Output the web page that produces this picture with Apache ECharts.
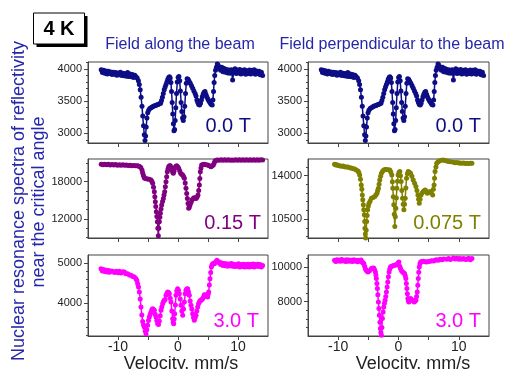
<!DOCTYPE html>
<html>
<head>
<meta charset="utf-8">
<script src="https://cdn.jsdelivr.net/npm/echarts@6/dist/echarts.min.js"></script>
<style>
  html, body { margin: 0; padding: 0; background: #fff; }
  #chart { width: 505px; height: 369px; }
</style>
</head>
<body>
<div id="chart"></div>
<script>
// velocity axis (mm/s)
const velTicks = [-10, -5, 0, 5, 10];
const velLabels = [-10, 0, 10];

// y tick values per panel
const ticksZeroMajor = [3000, 3500, 4000];
const ticksZeroMinor = [2900, 3100, 3200, 3300, 3400, 3600, 3700, 3800, 3900, 4100];
const ticksParMidMajor = [12000, 18000];
const ticksParMidMinor = [9000, 10500, 13500, 15000, 16500, 19500, 21000];
const ticksPerpMidMajor = [10500, 14000];
const ticksPerpMidMinor = [9100, 9800, 11200, 11900, 12600, 13300, 14700];
const ticksParHighMajor = [4000, 5000];
const ticksParHighMinor = [3200, 3400, 3600, 3800, 4200, 4400, 4600, 4800];
const ticksPerpHighMajor = [8000, 10000];
const ticksPerpHighMinor = [6500, 7000, 7500, 8500, 9000, 9500, 10500];

// 0.0 T spectrum (same in both geometries)
const specZero = [
  [-12.8,3990],[-12.6,3945],[-12.4,3980],[-12.2,3935],[-12.0,3970],[-11.8,3925],[-11.6,3965],[-11.4,3930],
  [-11.2,3955],[-11.0,3915],[-10.8,3950],[-10.6,3920],[-10.4,3945],[-10.2,3905],[-10.0,3940],[-9.8,3910],
  [-9.6,3950],[-9.4,3900],[-9.2,3935],[-9.0,3895],[-8.8,3930],[-8.6,3890],[-8.4,3945],[-8.2,3885],
  [-8.0,3925],[-7.8,3880],[-7.6,3915],[-7.4,3870],[-7.2,3905],[-7.0,3880],[-6.8,3860],
  [-6.6,3820],[-6.45,3760],[-6.3,3680],[-6.15,3560],[-6.0,3420],[-5.88,3270],[-5.75,3120],[-5.62,2980],
  [-5.5,2890],[-5.4,2960],[-5.3,3100],[-5.18,3240],[-5.05,3320],[-4.9,3360],[-4.7,3385],[-4.5,3400],
  [-4.3,3410],[-4.1,3420],[-3.9,3430],[-3.7,3435],[-3.5,3445],[-3.3,3450],[-3.1,3460],[-2.9,3470],
  [-2.75,3510],[-2.6,3560],[-2.45,3620],[-2.3,3680],[-2.15,3720],[-2.0,3760],[-1.85,3800],[-1.7,3840],
  [-1.55,3870],[-1.42,3880],[-1.3,3860],[-1.18,3790],[-1.08,3650],[-0.97,3480],[-0.87,3300],[-0.77,3150],
  [-0.67,3040],[-0.57,3060],[-0.47,3200],[-0.37,3400],[-0.25,3620],[-0.12,3800],[0.02,3870],[0.15,3885],
  [0.28,3820],[0.4,3660],[0.52,3480],[0.64,3340],[0.76,3240],[0.88,3200],[1.0,3260],[1.12,3420],
  [1.25,3620],[1.38,3780],[1.52,3850],[1.68,3840],[1.85,3810],[2.05,3780],[2.25,3740],[2.45,3700],
  [2.65,3660],[2.85,3620],[3.0,3580],[3.15,3520],[3.3,3480],[3.45,3450],[3.6,3440],[3.75,3470],
  [3.9,3520],[4.05,3570],[4.2,3610],[4.35,3640],[4.5,3650],[4.65,3610],[4.8,3570],[4.95,3540],
  [5.1,3510],[5.25,3490],[5.4,3470],[5.55,3450],[5.7,3440],[5.82,3520],[5.92,3650],[6.02,3790],
  [6.12,3900],[6.25,3980],[6.4,4030],[6.55,4080],[6.7,4060],[6.9,4010],[7.1,3980],[7.3,4030],
  [7.5,3960],[7.7,4010],[7.9,3950],[8.1,3995],[8.3,3940],[8.5,3985],[8.7,3935],[8.9,3990],
  [9.1,3830],[9.3,3960],[9.5,4005],[9.7,3930],[9.9,3985],[10.1,3940],[10.3,3995],[10.5,3925],
  [10.7,3980],[10.9,3935],[11.1,3990],[11.3,3920],[11.5,3975],[11.7,3930],[11.9,3985],[12.1,3925],
  [12.3,3980],[12.5,3935],[12.7,3990],[12.9,3920],[13.1,3970],[13.3,3930],[13.5,3965],[13.7,3910],
  [13.9,3950],[14.1,3900]
];

// 0.15 T, field along the beam
const specPar015 = [
  [-12.8,20800],[-12.5,20720],[-12.2,20810],[-11.9,20730],[-11.6,20790],[-11.3,20700],[-11.0,20770],[-10.7,20690],
  [-10.4,20750],[-10.1,20660],[-9.8,20730],[-9.5,20650],[-9.2,20710],[-8.9,20630],[-8.6,20690],[-8.3,20600],
  [-8.0,20660],[-7.7,20580],[-7.4,20620],[-7.1,20560],[-6.8,20580],[-6.6,20520],[-6.4,20450],[-6.2,20300],
  [-6.0,19880],[-5.9,19450],[-5.78,19080],[-5.67,18750],[-5.56,18540],[-5.3,18460],[-5.06,18430],[-4.8,18380],
  [-4.5,18270],[-4.35,18050],[-4.22,17740],[-4.08,17100],[-3.94,16400],[-3.86,15600],[-3.78,14790],[-3.7,14000],
  [-3.61,13180],[-3.52,12400],[-3.44,11570],[-3.36,10500],[-3.28,9300],[-3.2,10500],[-3.11,11570],[-3.02,12300],
  [-2.94,12910],[-2.83,13600],[-2.72,14250],[-2.58,14800],[-2.44,15320],[-2.33,15850],[-2.22,16400],[-2.11,17200],
  [-2.0,18000],[-1.89,18800],[-1.78,19610],[-1.67,20050],[-1.56,20420],[-1.42,20550],[-1.28,20580],[-1.14,20300],
  [-1.0,19880],[-0.89,19550],[-0.78,19350],[-0.67,19700],[-0.56,20150],[-0.39,20450],[-0.22,20580],[-0.05,20400],
  [0.11,20150],[0.28,19750],[0.44,19350],[0.61,19200],[0.78,19080],[0.92,18850],[1.06,18540],[1.2,17800],
  [1.33,16930],[1.45,16100],[1.56,15320],[1.67,14500],[1.78,13715],[1.89,13950],[2.0,14250],[2.17,14650],
  [2.33,15055],[2.5,15250],[2.67,15430],[2.83,15380],[3.0,15320],[3.17,15500],[3.33,15860],[3.45,16600],
  [3.56,17470],[3.64,18500],[3.72,19610],[3.83,20200],[3.94,20690],[4.15,20760],[4.39,20800],[4.65,20740],
  [4.94,20690],[5.2,20550],[5.5,20420],[5.7,20550],[5.89,20690],[6.03,21000],[6.17,21330],[6.4,21450],
  [6.61,21490],[6.9,21430],[7.2,21510],[7.5,21440],[7.8,21520],[8.1,21450],[8.4,21510],[8.7,21430],
  [9.0,21500],[9.3,21440],[9.6,21510],[9.9,21450],[10.2,21520],[10.5,21440],[10.8,21510],[11.1,21450],
  [11.4,21520],[11.7,21440],[12.0,21510],[12.3,21460],[12.6,21520],[12.9,21450],[13.2,21510],[13.5,21460],
  [13.8,21510],[14.1,21470]
];

// 0.075 T, field perpendicular to the beam
const specPerp0075 = [
  [-10.6,14913],[-10.4,14850],[-10.2,14880],[-10.0,14820],[-9.78,14805],[-9.5,14760],[-9.2,14780],[-8.94,14725],
  [-8.7,14700],[-8.4,14690],[-8.11,14645],[-7.85,14620],[-7.6,14580],[-7.28,14538],[-7.0,14460],[-6.72,14377],
  [-6.58,14250],[-6.44,14056],[-6.3,13700],[-6.17,13253],[-6.08,12900],[-6.0,12451],[-5.92,12050],[-5.83,11648],
  [-5.75,11250],[-5.67,10845],[-5.6,10300],[-5.56,9775],[-5.5,9300],[-5.44,8990],[-5.36,9600],[-5.28,10310],
  [-5.2,10800],[-5.11,11246],[-5.0,11550],[-4.89,11780],[-4.7,11950],[-4.5,12183],[-4.2,12250],[-3.94,12317],
  [-3.75,12450],[-3.56,12585],[-3.45,12800],[-3.33,12986],[-3.22,13300],[-3.11,13655],[-2.97,13950],[-2.83,14190],
  [-2.64,14350],[-2.44,14458],[-2.2,14490],[-2.0,14498],[-1.72,14470],[-1.44,14458],[-1.28,14300],[-1.11,14056],
  [-1.02,13500],[-0.94,12986],[-0.86,12300],[-0.78,11648],[-0.7,10900],[-0.61,9908],[-0.53,10700],[-0.44,11380],
  [-0.36,12200],[-0.28,12986],[-0.17,13550],[-0.06,14056],[0.08,14250],[0.22,14324],[0.33,14000],[0.44,13521],
  [0.55,12800],[0.67,12183],[0.78,11700],[0.89,11246],[1.0,11700],[1.11,12183],[1.22,13000],[1.33,13789],
  [1.47,14150],[1.61,14324],[1.8,14280],[2.0,14190],[2.22,13950],[2.44,13655],[2.67,13380],[2.89,13119],
  [3.05,12800],[3.22,12451],[3.33,12100],[3.44,11782],[3.58,12100],[3.72,12451],[3.9,12600],[4.11,12718],
  [4.28,12800],[4.44,12852],[4.6,12720],[4.78,12585],[5.0,12650],[5.22,12718],[5.45,12600],[5.67,12451],
  [5.78,12900],[5.89,13253],[5.97,13800],[6.06,14324],[6.2,14700],[6.33,14993],[6.55,15120],[6.78,15180],
  [7.1,15230],[7.44,15260],[7.7,15210],[8.0,15180],[8.3,15130],[8.6,15110],[9.11,15073],[9.4,15040],
  [9.7,15060],[10.0,15020],[10.22,15020],[10.5,14990],[10.8,15010],[11.1,14980],[11.33,14993],[11.6,14970],
  [11.9,15000],[12.17,14990]
];

// 3.0 T, field along the beam
const specPar30 = [
  [-12.83,4858],[-12.6,4800],[-12.4,4840],[-12.2,4790],[-12.0,4817],[-11.8,4775],[-11.6,4810],[-11.4,4770],
  [-11.2,4800],[-10.89,4792],[-10.6,4760],[-10.3,4795],[-10.0,4755],[-9.78,4792],[-9.5,4750],[-9.2,4780],
  [-8.94,4775],[-8.7,4730],[-8.39,4733],[-8.1,4700],[-7.83,4692],[-7.55,4660],[-7.28,4650],[-7.0,4608],
  [-6.86,4560],[-6.72,4483],[-6.58,4400],[-6.44,4275],[-6.3,4100],[-6.17,3900],[-6.03,3700],[-5.89,3540],
  [-5.75,3450],[-5.61,3400],[-5.47,3300],[-5.33,3233],[-5.2,3330],[-5.06,3442],[-4.92,3560],[-4.78,3650],
  [-4.64,3720],[-4.5,3775],[-4.36,3830],[-4.22,3858],[-4.08,3840],[-3.94,3817],[-3.8,3720],[-3.67,3650],
  [-3.53,3560],[-3.39,3483],[-3.25,3460],[-3.11,3550],[-2.97,3680],[-2.83,3817],[-2.7,3900],[-2.56,3983],
  [-2.42,4040],[-2.28,4067],[-2.14,4090],[-2.0,4192],[-1.86,4230],[-1.72,4275],[-1.58,4260],[-1.44,4233],
  [-1.3,4120],[-1.17,4025],[-1.03,3800],[-0.89,3608],[-0.8,3520],[-0.72,3483],[-0.64,3600],[-0.56,3733],
  [-0.44,3950],[-0.33,4192],[-0.2,4300],[-0.06,4358],[0.08,4320],[0.22,4233],[0.36,4100],[0.5,3942],
  [0.64,3800],[0.78,3692],[0.92,3850],[1.06,4025],[1.2,4230],[1.33,4317],[1.47,4350],[1.61,4358],
  [1.75,4280],[1.89,4192],[2.03,4050],[2.17,3942],[2.3,3850],[2.44,3733],[2.58,3640],[2.72,3567],
  [2.86,3640],[3.0,3692],[3.14,3800],[3.28,3900],[3.42,3980],[3.56,4025],[3.7,4060],[3.83,4067],
  [3.97,4090],[4.11,4108],[4.25,4150],[4.39,4208],[4.53,4200],[4.67,4192],[4.8,4170],[4.94,4150],
  [5.02,4220],[5.11,4275],[5.22,4450],[5.33,4608],[5.45,4760],[5.56,4900],[5.67,4950],[5.78,4983],
  [5.92,4990],[6.06,4983],[6.28,5030],[6.5,5067],[6.7,5010],[6.89,5025],[7.1,4960],[7.3,5000],
  [7.5,4940],[7.7,4990],[7.9,4930],[8.1,4980],[8.3,4920],[8.5,4975],[8.7,4930],[8.9,4990],
  [9.1,4920],[9.3,4970],[9.5,4910],[9.7,4960],[9.9,4920],[10.1,4980],[10.3,4900],[10.5,4960],
  [10.7,4910],[10.9,4970],[11.1,4900],[11.3,4960],[11.5,4905],[11.7,4970],[11.9,4900],[12.1,4960],
  [12.3,4910],[12.5,4975],[12.7,4900],[12.9,4960],[13.1,4920],[13.3,4970],[13.5,4910],[13.7,4960],
  [13.9,4900],[14.1,4940]
];

// 3.0 T, field perpendicular to the beam
const specPerp30 = [
  [-10.6,10405],[-10.4,10330],[-10.2,10440],[-10.0,10360],[-9.8,10420],[-9.6,10340],[-9.4,10450],[-9.2,10370],
  [-9.0,10410],[-8.8,10330],[-8.6,10430],[-8.4,10350],[-8.2,10420],[-8.0,10340],[-7.8,10400],[-7.6,10330],
  [-7.4,10440],[-7.2,10360],[-7.0,10410],[-6.8,10320],[-6.6,10400],[-6.4,10340],[-6.2,10420],[-6.0,10300],
  [-5.89,10250],[-5.75,10211],[-5.61,10050],[-5.47,9900],[-5.33,9824],[-5.2,9760],[-5.06,9727],[-4.8,9800],
  [-4.5,9920],[-4.3,9940],[-4.11,9959],[-3.97,9850],[-3.83,9727],[-3.75,9550],[-3.67,9339],[-3.58,9050],
  [-3.5,8758],[-3.42,8400],[-3.33,7983],[-3.25,7600],[-3.17,7208],[-3.08,6800],[-3.0,6432],[-2.92,6200],
  [-2.83,6045],[-2.75,6500],[-2.67,7013],[-2.55,7400],[-2.44,7692],[-2.33,7900],[-2.22,8080],[-2.11,8300],
  [-2.0,8564],[-1.89,8850],[-1.78,9145],[-1.67,9450],[-1.56,9727],[-1.45,9900],[-1.33,10017],[-1.17,10050],
  [-1.0,10076],[-0.8,10100],[-0.61,10115],[-0.4,10140],[-0.22,10153],[-0.08,10250],[0.06,10308],[0.2,10050],
  [0.33,9920],[0.5,9800],[0.67,9727],[0.83,9680],[1.0,9630],[1.12,9500],[1.22,9339],[1.3,9050],
  [1.39,8758],[1.47,8450],[1.56,8176],[1.64,8050],[1.72,7983],[1.86,8080],[2.0,8176],[2.17,8120],
  [2.33,8080],[2.47,8030],[2.61,7983],[2.75,8030],[2.89,8080],[3.0,8300],[3.11,8564],[3.2,8950],
  [3.28,9339],[3.36,9700],[3.44,10017],[3.55,10200],[3.67,10308],[3.9,10330],[4.11,10347],[4.4,10320],
  [4.67,10308],[4.95,10330],[5.22,10347],[5.5,10380],[5.8,10360],[6.06,10405],[6.3,10440],[6.6,10410],
  [6.89,10463],[7.2,10430],[7.5,10480],[8.0,10463],[8.3,10500],[8.6,10450],[9.11,10541],[9.4,10480],
  [9.7,10520],[10.0,10470],[10.22,10502],[10.5,10460],[10.8,10510],[11.1,10450],[11.33,10463],[11.6,10520],
  [11.9,10440],[12.17,10502]
];

const FONT = '"Liberation Sans", Arial, sans-serif';
const NAVY = '#0d0d85';
const TITLE_BLUE = '#2626aa';
const AXIS = '#444';

const panels = [
  { data: specZero, color: NAVY, min: 2850, max: 4110, major: ticksZeroMajor, minor: ticksZeroMinor,
    left: 88, top: 62, width: 180, height: 81, label: '0.0 T', labelX: 251, labelY: 126 },
  { data: specZero, color: NAVY, min: 2850, max: 4110, major: ticksZeroMajor, minor: ticksZeroMinor,
    left: 308, top: 62, width: 181, height: 81, label: '0.0 T', labelX: 481, labelY: 126 },
  { data: specPar015, color: '#800080', min: 8950, max: 21650, major: ticksParMidMajor, minor: ticksParMidMinor,
    left: 88, top: 159, width: 180, height: 79, label: '0.15 T', labelX: 261, labelY: 223 },
  { data: specPerp0075, color: '#808000', min: 8980, max: 15340, major: ticksPerpMidMajor, minor: ticksPerpMidMinor,
    left: 308, top: 159, width: 181, height: 79, label: '0.075 T', labelX: 481, labelY: 223 },
  { data: specPar30, color: '#ff00ff', min: 3175, max: 5200, major: ticksParHighMajor, minor: ticksParHighMinor,
    left: 88, top: 255, width: 180, height: 81, label: '3.0 T', labelX: 259, labelY: 321 },
  { data: specPerp30, color: '#ff00ff', min: 6000, max: 10710, major: ticksPerpHighMajor, minor: ticksPerpHighMinor,
    left: 308, top: 255, width: 181, height: 81, label: '3.0 T', labelX: 481, labelY: 321 }
];

const grid = [], xAxis = [], yAxis = [], series = [];
const graphic = [];

panels.forEach((p, i) => {
  const isBottom = i >= 4;
  grid.push({
    left: p.left, top: p.top, width: p.width, height: p.height,
    show: true, borderColor: AXIS, borderWidth: 1, backgroundColor: 'transparent'
  });
  xAxis.push({
    type: 'value', gridIndex: i, min: -15, max: 15,
    axisLine: { show: true, onZero: false, lineStyle: { color: AXIS, width: 1 } },
    axisTick: { show: true, length: 4, customValues: velTicks, lineStyle: { color: AXIS } },
    axisLabel: { show: isBottom, customValues: velLabels, fontSize: 14, color: '#222', margin: 4,
      fontFamily: FONT, formatter: v => String(v) },
    splitLine: { show: false }
  });
  // main ticks + labels
  yAxis.push({
    type: 'value', gridIndex: i, min: p.min, max: p.max, position: 'left',
    axisLine: { show: true, onZero: false, lineStyle: { color: AXIS, width: 1 } },
    axisTick: { show: true, length: 4, customValues: p.major, lineStyle: { color: AXIS } },
    axisLabel: { customValues: p.major, fontSize: 11, color: '#222', margin: 6, fontFamily: FONT,
      formatter: v => String(v) },
    splitLine: { show: false }
  });
  // minor ticks
  yAxis.push({
    type: 'value', gridIndex: i, min: p.min, max: p.max, position: 'left', offset: 0,
    axisLine: { show: false, onZero: false },
    axisTick: { show: true, length: 2, customValues: p.minor, lineStyle: { color: AXIS } },
    axisLabel: { show: false },
    splitLine: { show: false }
  });
  series.push({
    type: 'line', xAxisIndex: i, yAxisIndex: i * 2, data: p.data,
    symbol: 'circle', symbolSize: 5, showAllSymbol: true,
    lineStyle: { color: p.color, width: 1.5 },
    itemStyle: { color: p.color },
    clip: true, silent: true
  });
  graphic.push({
    type: 'text', x: p.labelX, y: p.labelY,
    style: { text: p.label, fill: p.color, font: '20px ' + FONT, align: 'right', verticalAlign: 'middle' }
  });
});

graphic.push(
  { type: 'rect', shape: { x: 36.5, y: 16, width: 51, height: 31 }, style: { fill: '#000' } },
  { type: 'rect', shape: { x: 33.5, y: 13, width: 51, height: 31 }, style: { fill: '#fff', stroke: '#000', lineWidth: 1 } },
  { type: 'text', x: 59, y: 29, style: { text: '4 K', fill: '#000', font: 'bold 20px ' + FONT, align: 'center', verticalAlign: 'middle' } },
  { type: 'text', x: 180, y: 45, style: { text: 'Field along the beam', fill: TITLE_BLUE, font: '16px ' + FONT, align: 'center', verticalAlign: 'middle' } },
  { type: 'text', x: 392, y: 45, style: { text: 'Field perpendicular to the beam', fill: TITLE_BLUE, font: '16px ' + FONT, align: 'center', verticalAlign: 'middle' } },
  { type: 'text', x: 181, y: 364, style: { text: 'Velocity, mm/s', fill: '#222', font: '18px ' + FONT, align: 'center', verticalAlign: 'middle' } },
  { type: 'text', x: 413, y: 364, style: { text: 'Velocity, mm/s', fill: '#222', font: '18px ' + FONT, align: 'center', verticalAlign: 'middle' } },
  { type: 'text', x: 19, y: 201, rotation: Math.PI / 2,
    style: { text: 'Nuclear resonance spectra of reflectivity', fill: TITLE_BLUE, font: '18px ' + FONT, align: 'center', verticalAlign: 'middle' } },
  { type: 'text', x: 39, y: 202, rotation: Math.PI / 2,
    style: { text: 'near the critical angle', fill: TITLE_BLUE, font: '18px ' + FONT, align: 'center', verticalAlign: 'middle' } }
);

const chart = echarts.init(document.getElementById('chart'), null, { renderer: 'canvas' });
chart.setOption({
  animation: false,
  backgroundColor: '#fff',
  grid: grid,
  xAxis: xAxis,
  yAxis: yAxis,
  series: series,
  graphic: graphic
});
</script>
</body>
</html>
